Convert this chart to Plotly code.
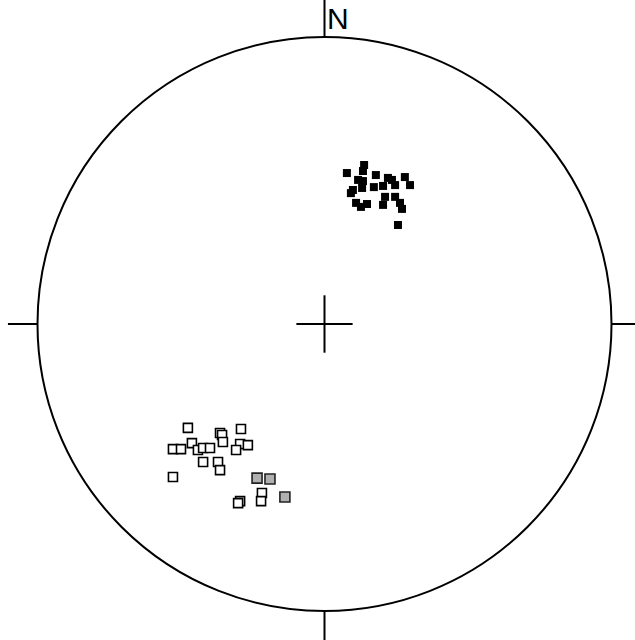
import plotly.graph_objects as go

# Equal-area projection coordinates (unit circle = primitive), east / north
closed_x = [0.078, 0.138, 0.134, 0.117, 0.134, 0.099, 0.092, 0.131, 0.110, 0.127, 0.148,
            0.179, 0.172, 0.204, 0.221, 0.235, 0.246, 0.280, 0.298, 0.211, 0.204, 0.246,
            0.263, 0.270, 0.256]
closed_y = [0.526, 0.554, 0.533, 0.502, 0.498, 0.467, 0.456, 0.474, 0.422, 0.408, 0.418,
            0.519, 0.477, 0.481, 0.509, 0.502, 0.484, 0.512, 0.484, 0.443, 0.415, 0.443,
            0.422, 0.401, 0.345]

open_x = [-0.476, -0.528, -0.500, -0.462, -0.441, -0.423, -0.399, -0.364, -0.357, -0.354,
          -0.291, -0.294, -0.267, -0.308, -0.423, -0.371, -0.364, -0.528, -0.218, -0.221,
          -0.294, -0.301]
open_y = [-0.362, -0.436, -0.436, -0.415, -0.439, -0.432, -0.432, -0.380, -0.387, -0.411,
          -0.366, -0.418, -0.422, -0.439, -0.481, -0.481, -0.509, -0.533, -0.589, -0.617,
          -0.617, -0.624]

grey_x = [-0.235, -0.190, -0.138]
grey_y = [-0.537, -0.540, -0.603]

fig = go.Figure()
fig.add_trace(go.Scatter(x=open_x, y=open_y, mode="markers",
                         marker=dict(symbol="square", size=9, color="white",
                                     line=dict(color="black", width=1.6))))
fig.add_trace(go.Scatter(x=grey_x, y=grey_y, mode="markers",
                         marker=dict(symbol="square", size=10, color="#b0b0b0",
                                     line=dict(color="#222", width=1.6))))
fig.add_trace(go.Scatter(x=closed_x, y=closed_y, mode="markers",
                         marker=dict(symbol="square", size=8, color="black",
                                     line=dict(width=0))))

line = dict(color="black", width=2)
shapes = [
    dict(type="circle", xref="x", yref="y", x0=-1, x1=1, y0=-1, y1=1, line=line),
    dict(type="line", x0=0, x1=0, y0=1, y1=1.14, line=line),
    dict(type="line", x0=0, x1=0, y0=-1, y1=-1.12, line=line),
    dict(type="line", x0=-1, x1=-1.103, y0=0, y1=0, line=line),
    dict(type="line", x0=1, x1=1.1, y0=0, y1=0, line=line),
    dict(type="line", x0=-0.098, x1=0.098, y0=0, y1=0, line=line),
    dict(type="line", x0=0, x1=0, y0=-0.1, y1=0.1, line=line),
]

r = 287.0
fig.update_layout(
    width=635, height=640,
    margin=dict(l=0, r=0, t=0, b=0),
    paper_bgcolor="white", plot_bgcolor="white",
    showlegend=False,
    shapes=shapes,
    xaxis=dict(range=[-324.5 / r, (635 - 324.5) / r], visible=False, fixedrange=True),
    yaxis=dict(range=[-(640 - 324) / r, 324 / r], visible=False, fixedrange=True),
    annotations=[dict(x=0.003, y=1.065, xref="x", yref="y", text="N", showarrow=False,
                      xanchor="left", yanchor="middle",
                      font=dict(family="Liberation Sans, Arial", size=30, color="black"))],
)

fig.write_html("out.html", config={"displayModeBar": False},
               post_script="document.body.style.margin='0px';document.body.style.overflow='hidden';")
